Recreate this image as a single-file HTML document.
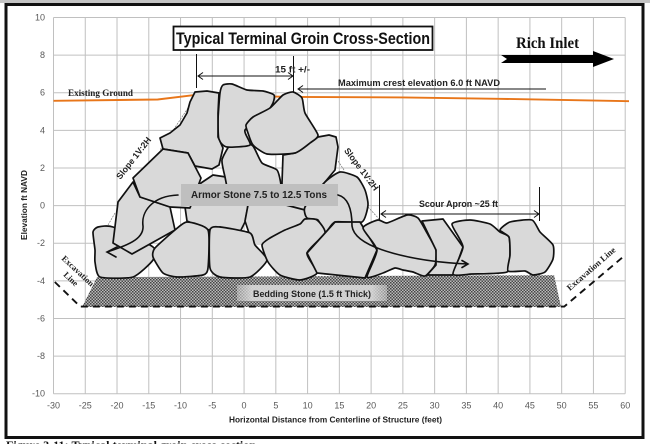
<!DOCTYPE html>
<html lang="en">
<head>
<meta charset="utf-8">
<title>Typical Terminal Groin Cross-Section</title>
<style>
html,body{margin:0;padding:0;background:#fff;width:650px;height:444px;overflow:hidden}
svg{display:block}
text{font-family:"Liberation Sans",sans-serif}
.serif{font-family:"Liberation Serif",serif;font-weight:bold}
.tick{font-size:9px;fill:#595959}
.stone{fill:#d9d9d9;stroke:#111;stroke-width:1.7;stroke-linejoin:round}
.lab{font-weight:bold;fill:#222}
.thin{stroke:#111;stroke-width:1;fill:none}
.curve{stroke:#111;stroke-width:1.6;fill:none;stroke-linecap:round}
.slope{stroke:#777;stroke-width:.7;stroke-dasharray:2 1;fill:none}
</style>
</head>
<body>
<svg id="chart" width="650" height="444" viewBox="0 0 650 444" xmlns="http://www.w3.org/2000/svg">
<defs>
<pattern id="gravel" width="3" height="3" patternUnits="userSpaceOnUse">
<rect width="3" height="3" fill="#bbbbbb"/>
<rect x="0" y="0" width="1.5" height="1.5" fill="#444"/>
<rect x="1.5" y="1.5" width="1.5" height="1.5" fill="#4a4a4a"/>
</pattern>
<linearGradient id="bedglow" x1="0" x2="1" y1="0" y2="0">
<stop offset="0" stop-color="#d9d9d9" stop-opacity=".45"/>
<stop offset=".1" stop-color="#d9d9d9" stop-opacity=".9"/>
<stop offset=".9" stop-color="#d9d9d9" stop-opacity=".9"/>
<stop offset="1" stop-color="#d9d9d9" stop-opacity=".45"/>
</linearGradient>
</defs>

<rect x="0" y="0" width="650" height="3" fill="#c4c4c4"/>
<rect x="6" y="4.5" width="637" height="433" fill="#fff" stroke="#111" stroke-width="3"/>

<g id="grid"></g>
<g id="ticks"></g>
<path id="ground" fill="none" stroke="#e8761a" stroke-width="1.9"/>

<g>
<path class="slope" d="M188,108 L160,150 M115,213 L108,225"/>
<path class="slope" d="M338,161 L344,170 M368,207 L380,220"/>
</g>

<polygon id="bedding" fill="url(#gravel)"/>

<g>
<polygon class="stone" points="201,183 213,175 226,177 232,195 248,206 245,222 240,232 220,227 208,230 187,221 185,207"/>
<polygon fill="#d9d9d9" points="248,205 245,222 253,245 262,245 270,238 285,230 300,224 305,219 305,205 290,190 250,190"/>
<path class="stone smooth" data-pts="222,160 230,145 241,140 253,146 262,163 277,170 281,185 281,204 250,204 230,195 225,177"/>
<path d="M248,205 L245,221 L253,245" fill="none" stroke="#111" stroke-width="1.7"/>
<polygon class="stone" points="283,155 295,153 318,137 329,135 336,137 338,147 335,170 325,182 305,208 305,210 282,204 282,183"/>
<path class="stone smooth" data-pts="325,182 340,172 357,177 365,190 368,205 362,222 335,222 325,233 318,220 307,218 305,207"/>
<path class="stone smooth" data-pts="220,93 223,85 232,84 247,90 263,91 274,95 273,103 265,115 245,130 250,145 227,147 219,140 218,120"/>
<polygon class="stone" points="195,92 207,91 219,93 218,113 218,137 223,148 219,165 212,169 195,166 188,153 163,149 160,138 170,133 180,125 187,113 190,102"/>
<path class="stone smooth" data-pts="246,125 253,117 270,108 283,95 293,92 302,98 305,113 318,135 310,143 295,153 267,154 253,145 248,133"/>
<path class="stone smooth" data-pts="93,232 98,227 113,227 153,247 153,260 133,277 100,277 95,262 95,250"/>
<polygon class="stone" points="118,202 113,243 132,254 175,230 170,207 140,197 133,182"/>
<polygon class="stone" points="133,178 163,149 188,153 201,178 190,208 170,207 140,197"/>
<path class="stone smooth" data-pts="153,257 155,248 175,230 187,222 208,230 208,268 203,275 177,277 163,273"/>
<path class="stone smooth" data-pts="210,230 220,227 250,233 255,245 267,260 250,277 220,277 210,268"/>
<path class="stone smooth" data-pts="262,245 270,238 285,230 300,224 305,219 317,220 325,233 307,253 317,273 300,280 280,275 268,262"/>
<polygon class="stone" points="335,222 360,222 377,250 365,278 317,273 307,253"/>
<path class="stone smooth" data-pts="363,228 378,220 387,223 407,215 418,218 427,233 436,250 435,265 425,276 413,272 403,270 395,268 383,273 367,277 377,250"/>
<polygon class="stone" points="422,221 443,219 463,247 453,275 427,275 436,265 436,250"/>
<path class="stone smooth" data-pts="452,224 470,220 490,224 500,232 509,237 510,255 507,272 472,274 453,274 463,247"/>
<path class="stone smooth" data-pts="500,230 510,222 532,220 540,232 553,245 553,259 545,272 533,275 525,271 508,271 510,255 509,237"/>
</g>

<path id="excavation" fill="none" stroke="#111" stroke-width="1.9" stroke-dasharray="7 5"/>

<rect x="237" y="285" width="150" height="16" fill="url(#bedglow)"/>
<text class="lab" x="253" y="297" font-size="9.5" textLength="118" lengthAdjust="spacingAndGlyphs">Bedding Stone (1.5 ft Thick)</text>

<rect x="181" y="184" width="157" height="22" fill="#bfbfbf"/>
<text class="lab" x="191" y="198" font-size="10.5" textLength="136" lengthAdjust="spacingAndGlyphs">Armor Stone 7.5 to 12.5 Tons</text>

<g>
<path class="curve" d="M178,195 C152,196 141,212 143,226 C144,240 125,246 107,252 M117,247 L107,252 L116,257"/>
<path class="curve" d="M338,195 C350,198 352,214 352,226 C355,250 420,262 468,264 M462,260.5 L468,264 L462,267.5"/>
</g>

<rect x="173.5" y="26.5" width="259" height="23.5" fill="#fff" stroke="#111" stroke-width="1.8"/>
<text x="176" y="44" font-size="16.5" font-weight="bold" fill="#111" textLength="254" lengthAdjust="spacingAndGlyphs">Typical Terminal Groin Cross-Section</text>

<g>
<path class="thin" d="M196.5,54 V88 M293.5,56 V92"/>
<path class="thin" d="M198,76 H293 M203,72.5 L198,76 L203,79.5 M288,72.5 L293,76 L288,79.5"/>
<text class="lab" x="275" y="72.5" font-size="9" textLength="35" lengthAdjust="spacingAndGlyphs">15 ft +/-</text>
</g>

<g>
<path class="thin" d="M298,89 H546 M303,85.5 L298,89 L303,92.5"/>
<text class="lab" x="338" y="86" font-size="9.3" textLength="162" lengthAdjust="spacingAndGlyphs">Maximum crest elevation 6.0 ft NAVD</text>
</g>

<text class="serif" x="68" y="96" font-size="9.5" fill="#222" textLength="65" lengthAdjust="spacingAndGlyphs">Existing Ground</text>

<text class="serif" x="516" y="48" font-size="15.5" fill="#111" textLength="63" lengthAdjust="spacingAndGlyphs">Rich Inlet</text>
<polygon fill="#000" points="501,55 593,55 593,51 614,59 593,67 593,63 501,63 507,59"/>

<text class="lab" font-size="8.8" text-anchor="middle" transform="translate(136,160) rotate(-52)">Slope 1V:2H</text>
<text class="lab" font-size="8.8" text-anchor="middle" transform="translate(359,171) rotate(53)">Slope 1V:2H</text>

<g>
<path class="thin" d="M379.5,185 V220 M539.5,187 V221"/>
<path class="thin" d="M381,214 H539 M386,210.5 L381,214 L386,217.5 M534,210.5 L539,214 L534,217.5"/>
<text class="lab" x="419" y="207" font-size="9" textLength="79" lengthAdjust="spacingAndGlyphs">Scour Apron ~25 ft</text>
</g>

<text class="serif" font-size="8.5" text-anchor="middle" fill="#222" transform="translate(76,273) rotate(43)">Excavation</text>
<text class="serif" font-size="8.5" text-anchor="middle" fill="#222" transform="translate(69,281) rotate(43)">Line</text>
<text class="serif" font-size="8.8" text-anchor="middle" fill="#222" transform="translate(593,271) rotate(-41)">Excavation Line</text>

<text class="lab" font-size="8.3" text-anchor="middle" transform="translate(27,205) rotate(-90)">Elevation ft NAVD</text>
<text class="lab" x="229" y="422.5" font-size="8.5" textLength="213" lengthAdjust="spacingAndGlyphs">Horizontal Distance from Centerline of Structure (feet)</text>

<text class="serif" x="6" y="449" font-size="11.5" fill="#111" textLength="250" lengthAdjust="spacingAndGlyphs">Figure 3-11: Typical terminal groin cross-section</text>
</svg>

<script>
var xTicks = [-30,-25,-20,-15,-10,-5,0,5,10,15,20,25,30,35,40,45,50,55,60];
var yTicks = [-10,-8,-6,-4,-2,0,2,4,6,8,10];
var groundFeet = [-30,-13.6,-8,8,25,40,60.6];
var groundElevation = [5.57,5.64,5.87,5.78,5.75,5.68,5.55];
var excavationFeet = [-29.8,-25.8,50.4,60];
var excavationElevation = [-4.06,-5.37,-5.37,-2.63];
var beddingFeet = [-23.15,48.8,49.9,-25.5];
var beddingElevation = [-3.8,-3.7,-5.39,-5.39];

var NS = 'http://www.w3.org/2000/svg';
function sx(v){ return 53.5 + (v + 30) * 571.7 / 90; }
function sy(v){ return 205.6 - v * 18.81; }
function linePath(xs, ys){
  return xs.map(function(v,i){ return (i ? 'L' : 'M') + sx(v).toFixed(1) + ',' + sy(ys[i]).toFixed(1); }).join(' ');
}

var grid = document.getElementById('grid');
var ticks = document.getElementById('ticks');
xTicks.forEach(function(v){
  var l = document.createElementNS(NS,'line');
  
  
  l.setAttribute('x1', sx(v)); l.setAttribute('x2', sx(v));
  l.setAttribute('y1', sy(10)); l.setAttribute('y2', sy(-10));
  l.setAttribute('stroke', '#c0c0c0'); l.setAttribute('stroke-width', '1');
  grid.appendChild(l);
  var t = document.createElementNS(NS,'text');
  
  
  t.setAttribute('class', 'tick');
  t.setAttribute('x', sx(v)); t.setAttribute('y', 408.5);
  t.setAttribute('text-anchor', 'middle');
  t.textContent = v;
  ticks.appendChild(t);
});
yTicks.forEach(function(v){
  var l = document.createElementNS(NS,'line');
  
  
  l.setAttribute('x1', sx(-30)); l.setAttribute('x2', sx(60));
  l.setAttribute('y1', sy(v)); l.setAttribute('y2', sy(v));
  l.setAttribute('stroke', '#c0c0c0'); l.setAttribute('stroke-width', '1');
  grid.appendChild(l);
  var t = document.createElementNS(NS,'text');
  
  
  t.setAttribute('class', 'tick');
  t.setAttribute('x', 45); t.setAttribute('y', sy(v) + 3);
  t.setAttribute('text-anchor', 'end');
  t.textContent = v;
  ticks.appendChild(t);
});

document.getElementById('ground').setAttribute('d', linePath(groundFeet, groundElevation));
document.getElementById('excavation').setAttribute('d', linePath(excavationFeet, excavationElevation));
document.getElementById('bedding').setAttribute('points', beddingFeet.map(function(v,i){
  return sx(v).toFixed(1) + ',' + sy(beddingElevation[i]).toFixed(1);
}).join(' '));

Array.prototype.forEach.call(document.querySelectorAll('.smooth'), function(p){
  var pts = p.getAttribute('data-pts').trim().split(/\s+/).map(function(s){ return s.split(',').map(Number); });
  var n = pts.length, d = 'M' + pts[0][0] + ',' + pts[0][1];
  for (var i = 0; i < n; i++) {
    var a = pts[(i + n - 1) % n], b = pts[i], c = pts[(i + 1) % n], e = pts[(i + 2) % n];
    var k = 0.1;
    d += ' C' + (b[0] + (c[0] - a[0]) * k).toFixed(1) + ',' + (b[1] + (c[1] - a[1]) * k).toFixed(1) +
         ' ' + (c[0] - (e[0] - b[0]) * k).toFixed(1) + ',' + (c[1] - (e[1] - b[1]) * k).toFixed(1) +
         ' ' + c[0] + ',' + c[1];
  }
  p.setAttribute('d', d + ' Z');
});
</script>
</body>
</html>
